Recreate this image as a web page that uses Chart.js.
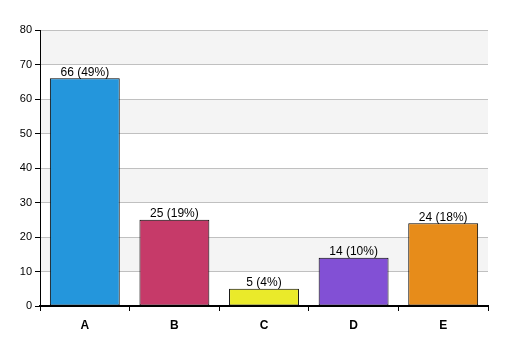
<!DOCTYPE html>
<html><head><meta charset="utf-8">
<script src="https://cdn.jsdelivr.net/npm/chart.js@4/dist/chart.umd.min.js"></script>
<style>html,body{margin:0;padding:0;background:#fff;}#wrap{width:507px;height:356px;}</style>
</head><body><div id="wrap"><canvas id="c" width="507" height="356"></canvas></div>
<script>
const categories = ['A','B','C','D','E'];
const values = [66, 25, 5, 14, 24];
const percents = [49, 19, 4, 10, 18];
const colors = ['#2496dc','#c63a69','#eaea2a','#8250d5','#e78c1a'];
const yTicks = [0,10,20,30,40,50,60,70,80];

const bandPlugin = {
  id: 'bands',
  beforeDraw(chart) {
    const {ctx, chartArea, scales} = chart;
    const y = scales.y;
    ctx.save();
    ctx.fillStyle = '#f4f4f4';
    for (let i = 0; i < yTicks.length - 1; i++) {
      if (i % 2 === 1) {
        const top = y.getPixelForValue(yTicks[i+1]);
        const bot = y.getPixelForValue(yTicks[i]);
        ctx.fillRect(chartArea.left, top, chartArea.right - chartArea.left, bot - top);
      }
    }
    ctx.restore();
  }
};
const labelPlugin = {
  id: 'vlabels',
  afterDatasetsDraw(chart) {
    const {ctx} = chart;
    const meta = chart.getDatasetMeta(0);
    ctx.save();
    ctx.font = '12px "Liberation Sans", Arial, sans-serif';
    ctx.fillStyle = '#000';
    ctx.textAlign = 'center';
    ctx.textBaseline = 'bottom';
    meta.data.forEach((bar, i) => {
      ctx.fillText(values[i] + ' (' + percents[i] + '%)', bar.x, bar.y);
    });
    ctx.restore();
  }
};

new Chart(document.getElementById('c'), {
  type: 'bar',
  data: {
    labels: categories,
    datasets: [{
      data: values,
      backgroundColor: colors,
      borderColor: '#000',
      borderWidth: 1,
      borderSkipped: false,
      categoryPercentage: 1,
      barPercentage: 0.78
    }]
  },
  options: {
    responsive: false,
    animation: false,
    devicePixelRatio: 1,
    layout: { padding: { top: 30, right: 19, left: 0, bottom: 0 } },
    plugins: { legend: { display: false }, tooltip: { enabled: false } },
    scales: {
      x: {
        offset: true,
        grid: { drawOnChartArea: false, drawTicks: true, tickLength: 5, tickColor: '#000', offset: true },
        border: { color: '#000', width: 2 },
        ticks: { color: '#000', font: { family: '"Liberation Sans", Arial, sans-serif', size: 12, weight: 'bold' }, padding: 7 },
        afterFit(s) { s.height = 50; }
      },
      y: {
        min: 0, max: 80,
        afterBuildTicks(s) { s.ticks = yTicks.map(v => ({value: v})); },
        grid: { color: '#c0c0c0', tickColor: '#000', tickLength: 5, drawTicks: true },
        border: { color: '#000', width: 1 },
        ticks: { color: '#000', font: { family: '"Liberation Sans", Arial, sans-serif', size: 11 }, padding: 3 },
        afterFit(s) { s.width = 40; }
      }
    }
  },
  plugins: [bandPlugin, labelPlugin]
});
</script></body></html>
